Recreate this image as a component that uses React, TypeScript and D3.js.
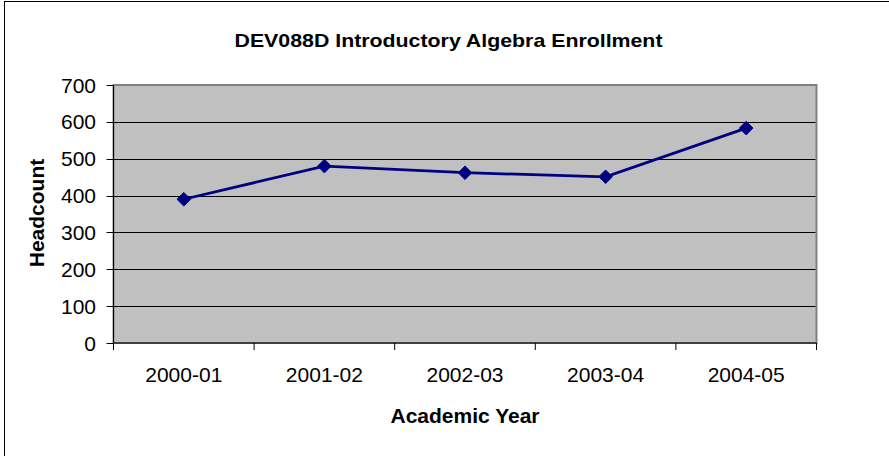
import React from "react";
import * as d3 from "d3";

const categories = ["2000-01", "2001-02", "2002-03", "2003-04", "2004-05"];
const headcount = [390, 480, 462, 451, 583];
const yTicks = [0, 100, 200, 300, 400, 500, 600, 700];
const title = "DEV088D Introductory Algebra Enrollment";
const xTitle = "Academic Year";
const yTitle = "Headcount";

const W = 889;
const H = 456;
const plot = { left: 113.5, top: 85, right: 816.5, bottom: 343 };

export default function App() {
  const x = d3
    .scaleBand<string>()
    .domain(categories)
    .range([plot.left, plot.right])
    .paddingInner(0)
    .paddingOuter(0);
  const y = d3.scaleLinear().domain([0, 700]).range([plot.bottom, plot.top]);
  const cx = (c: string) => (x(c) as number) + x.bandwidth() / 2;

  const line = d3
    .line<number>()
    .x((_, i) => cx(categories[i]))
    .y((d) => y(d));
  const diamond = d3.symbol().type(d3.symbolDiamond2).size(118)();
  const font = "'Liberation Sans', Arial, sans-serif";
  const boundaries = [...categories.map((c) => x(c) as number), plot.right];

  return (
    <div style={{ position: "absolute", left: 0, top: 0 }}>
      <svg width={W} height={H} style={{ display: "block" }} fontFamily={font}>
        <rect x={0} y={0} width={W} height={H} fill="#fff" />
        <rect x={4.5} y={1.5} width={W + 20} height={H + 20} fill="none" stroke="#000" strokeWidth={1} />
        <text
          x={(234 + 663) / 2}
          y={47}
          textAnchor="middle"
          fontSize={19}
          fontWeight="bold"
          textLength={428}
          lengthAdjust="spacingAndGlyphs"
        >
          {title}
        </text>
        <rect
          x={plot.left}
          y={plot.top}
          width={plot.right - plot.left}
          height={plot.bottom - plot.top}
          fill="#c0c0c0"
          stroke="#808080"
          strokeWidth={2}
        />
        {yTicks
          .filter((t) => t !== 0 && t !== 700)
          .map((t) => (
            <line
              key={"g" + t}
              x1={plot.left}
              x2={plot.right - 1}
              y1={Math.round(y(t)) + 0.5}
              y2={Math.round(y(t)) + 0.5}
              stroke="#000"
              strokeWidth={1}
            />
          ))}
        {/* y axis */}
        <line x1={plot.left} x2={plot.left} y1={plot.top} y2={plot.bottom} stroke="#000" strokeWidth={1} />
        {yTicks.map((t) => (
          <g key={"yt" + t}>
            <line
              x1={plot.left - 7}
              x2={plot.left}
              y1={Math.round(y(t)) + 0.5}
              y2={Math.round(y(t)) + 0.5}
              stroke="#000"
            />
            <text x={96} y={y(t)} dy="0.36em" textAnchor="end" fontSize={21}>
              {t}
            </text>
          </g>
        ))}
        {/* x axis */}
        <line x1={plot.left} x2={plot.right} y1={plot.bottom} y2={plot.bottom} stroke="#404040" strokeWidth={2} />
        {boundaries.map((b, i) => (
          <line key={"xt" + i} x1={b} x2={b} y1={plot.bottom} y2={plot.bottom + 7} stroke="#000" />
        ))}
        {categories.map((c) => (
          <text key={c} x={cx(c)} y={382} textAnchor="middle" fontSize={21}>
            {c}
          </text>
        ))}
        <path d={line(headcount) || ""} fill="none" stroke="#000080" strokeWidth={2.75} />
        {headcount.map((v, i) => (
          <path
            key={"m" + i}
            d={diamond || ""}
            transform={`translate(${cx(categories[i])},${y(v)})`}
            fill="#000080"
            stroke="#000080"
            strokeWidth={1}
          />
        ))}
        <text x={465} y={423} textAnchor="middle" fontSize={21} fontWeight="bold">
          {xTitle}
        </text>
        <text
          transform={`translate(44,213) rotate(-90)`}
          textAnchor="middle"
          fontSize={21}
          fontWeight="bold"
        >
          {yTitle}
        </text>
      </svg>
    </div>
  );
}
